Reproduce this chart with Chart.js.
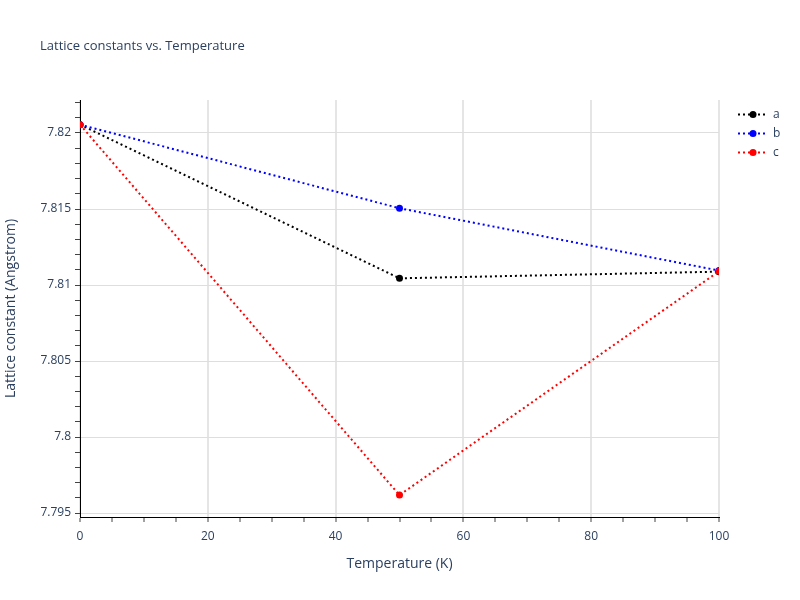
<!DOCTYPE html>
<html>
<head>
<meta charset="utf-8">
<script src="https://cdn.jsdelivr.net/npm/chart.js@4/dist/chart.umd.min.js"></script>
<style>
  html, body { margin: 0; padding: 0; background: #fff; }
  #wrap { width: 800px; height: 600px; position: relative; }
</style>
</head>
<body>
<div id="wrap"><canvas id="latticeChart"></canvas></div>
<script>
const temperatures = [0, 50, 100];
const latticeA = [7.82055, 7.81044, 7.81088];
const latticeB = [7.82055, 7.81505, 7.81095];
const latticeC = [7.82055, 7.79618, 7.81090];

const seriesNames = ['a', 'b', 'c'];
const seriesColors = ['#000000', '#0000ff', '#ff0000'];

const xMajorTicks = [0, 20, 40, 60, 80, 100];
const xTickLabels = ['0', '20', '40', '60', '80', '100'];
const yMajorTicks = [7.795, 7.8, 7.805, 7.81, 7.815, 7.82];
const yTickLabels = ['7.795', '7.8', '7.805', '7.81', '7.815', '7.82'];

const chartTitle = 'Lattice constants vs. Temperature';
const xTitle = 'Temperature (K)';
const yTitle = 'Lattice constant (Angstrom)';

const FONT = '"Open Sans", verdana, arial, sans-serif';
const TEXT = '#2a3f5f';

function toPoints(ys){
    return temperatures.map((t, i) => ({ x: t, y: ys[i] }));
}

function isMajor(list, v){
    return list.some(m => Math.abs(m - v) < 1e-9);
}

function labelFor(list, labels, v){
    const i = list.findIndex(m => Math.abs(m - v) < 1e-9);
    return i >= 0 ? labels[i] : '';
}

// title + legend, drawn after the chart
const decorPlugin = {
    id: 'decor',
    afterDraw(chart){
        const ctx = chart.ctx;
        ctx.save();
        ctx.fillStyle = TEXT;
        ctx.font = '13px ' + FONT;
        ctx.textAlign = 'left';
        ctx.textBaseline = 'middle';
        ctx.fillText(chartTitle, 40, 46);

        seriesNames.forEach((name, i) => {
            const y = 114.5 + i * 19;
            ctx.strokeStyle = seriesColors[i];
            ctx.lineWidth = 2;
            ctx.setLineDash([2, 3]);
            ctx.beginPath();
            ctx.moveTo(738, y);
            ctx.lineTo(768, y);
            ctx.stroke();
            ctx.setLineDash([]);
            ctx.fillStyle = seriesColors[i];
            ctx.beginPath();
            ctx.arc(753, y, 3.5, 0, Math.PI * 2);
            ctx.fill();
            ctx.fillStyle = TEXT;
            ctx.font = '12px ' + FONT;
            ctx.fillText(name, 773, y);
        });
        ctx.restore();
    }
};

const datasets = [latticeA, latticeB, latticeC].map((ys, i) => ({
    label: seriesNames[i],
    data: toPoints(ys),
    borderColor: seriesColors[i],
    backgroundColor: seriesColors[i],
    borderWidth: 2,
    borderDash: [2, 3],
    pointRadius: 3.5,
    pointHoverRadius: 3.5,
    pointBorderWidth: 0,
    tension: 0,
    order: 3 - i
}));

new Chart(document.getElementById('latticeChart'), {
    type: 'line',
    data: { datasets: datasets },
    options: {
        responsive: true,
        maintainAspectRatio: false,
        animation: false,
        devicePixelRatio: 1,
        layout: { padding: { top: 100, right: 81, left: 0, bottom: 0 } },
        plugins: {
            legend: { display: false },
            title: { display: false },
            tooltip: { enabled: false }
        },
        scales: {
            x: {
                type: 'linear',
                min: 0,
                max: 100,
                afterFit: s => { s.height = 83; },
                afterBuildTicks: s => {
                    const t = [];
                    for (let v = 0; v <= 100; v += 5) t.push({ value: v });
                    s.ticks = t;
                },
                ticks: {
                    autoSkip: false,
                    maxRotation: 0,
                    padding: 7,
                    color: TEXT,
                    font: { family: FONT, size: 12 },
                    callback: v => labelFor(xMajorTicks, xTickLabels, v)
                },
                grid: {
                    color: c => (c.tick && isMajor(xMajorTicks, c.tick.value)) ? '#e5e5e5' : 'rgba(0,0,0,0)',
                    lineWidth: 2,
                    tickColor: '#444',
                    tickLength: 5,
                    tickWidth: 1
                },
                border: { color: '#000', width: 1 },
                title: {
                    display: true,
                    text: xTitle,
                    color: TEXT,
                    font: { family: FONT, size: 14 },
                    padding: { top: 0, bottom: 28 }
                }
            },
            y: {
                type: 'linear',
                min: 7.79474,
                max: 7.82217,
                afterFit: s => { s.width = 80; },
                afterBuildTicks: s => {
                    const t = [];
                    for (let k = 0; k <= 27; k++) t.push({ value: +(7.795 + k * 0.001).toFixed(3) });
                    s.ticks = t;
                },
                ticks: {
                    autoSkip: false,
                    padding: 4,
                    color: TEXT,
                    font: { family: FONT, size: 12 },
                    callback: v => labelFor(yMajorTicks, yTickLabels, v)
                },
                grid: {
                    color: c => (c.tick && isMajor(yMajorTicks, c.tick.value)) ? '#dedede' : 'rgba(0,0,0,0)',
                    lineWidth: 1,
                    tickColor: '#444',
                    tickLength: 5,
                    tickWidth: 1
                },
                border: { color: '#000', width: 1 },
                title: {
                    display: true,
                    text: yTitle,
                    color: TEXT,
                    font: { family: FONT, size: 14 },
                    padding: { top: 3, bottom: 0 }
                }
            }
        }
    },
    plugins: [decorPlugin]
});
</script>
</body>
</html>
